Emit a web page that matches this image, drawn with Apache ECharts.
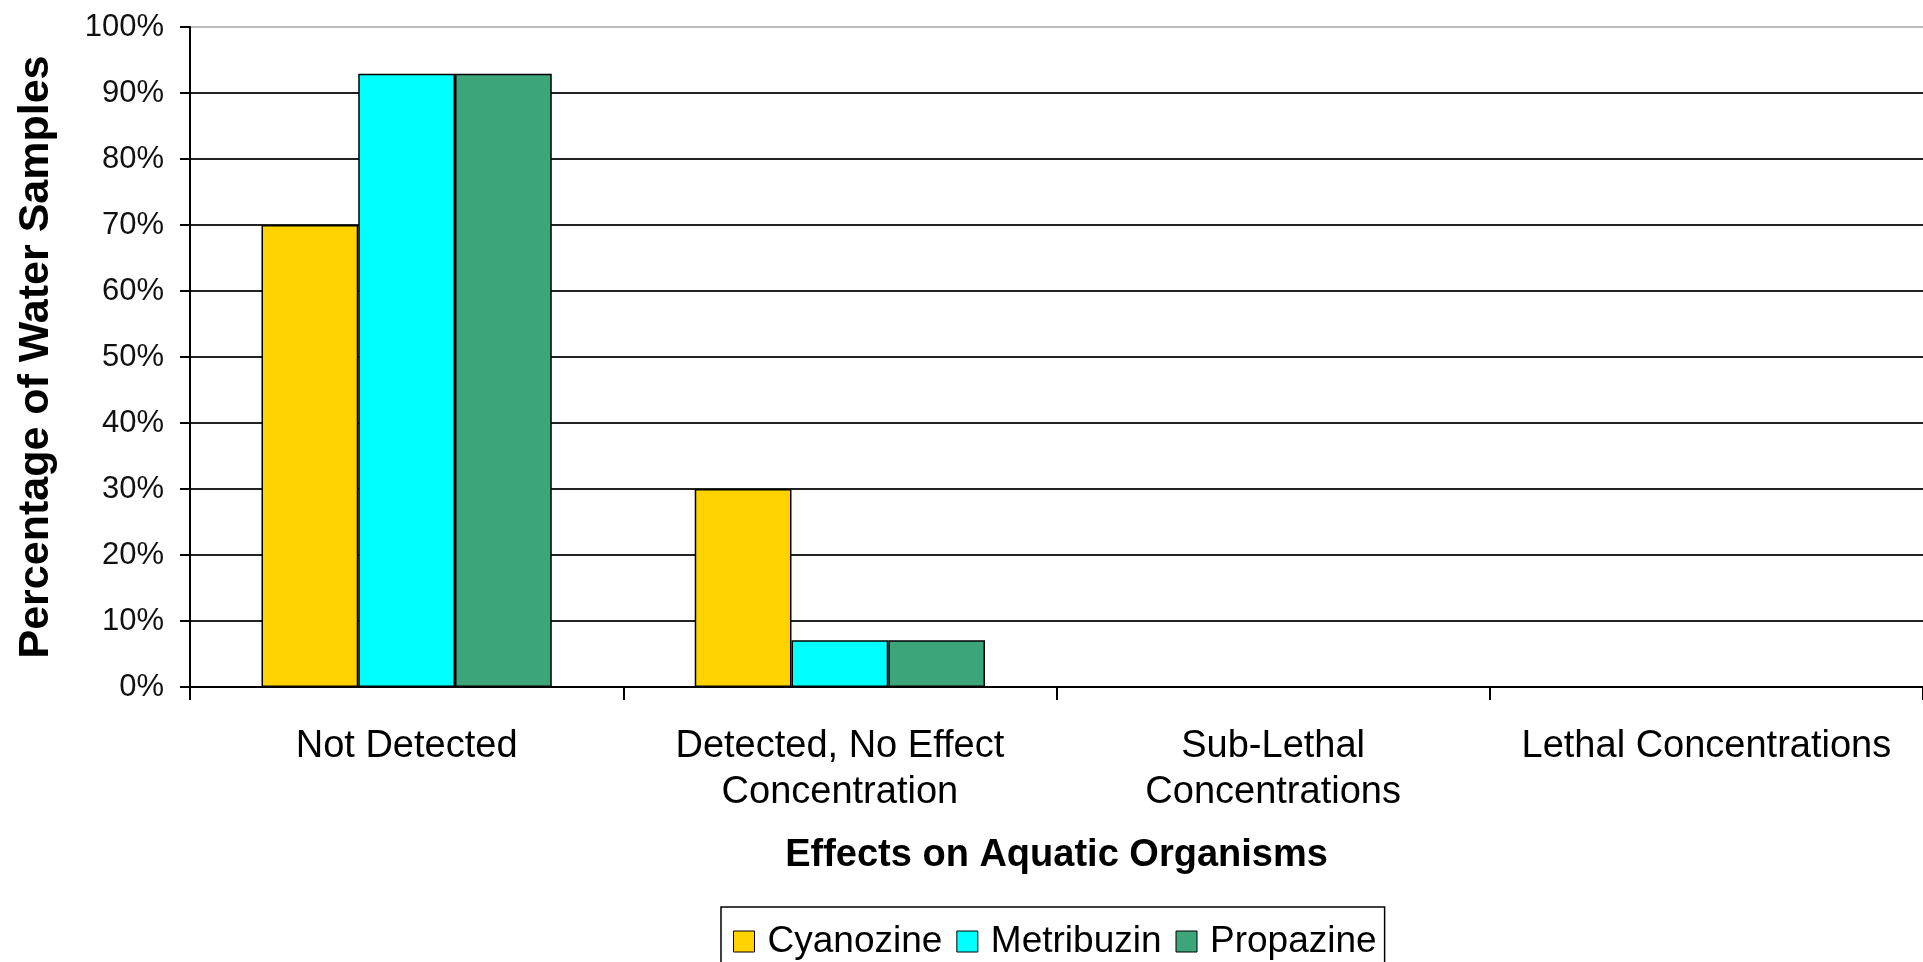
<!DOCTYPE html>
<html>
<head>
<meta charset="utf-8">
<script src="https://cdn.jsdelivr.net/npm/echarts@6/dist/echarts.min.js"></script>
<style>
html,body{margin:0;padding:0;background:#fff;}
#chart{width:1923px;height:962px;}
</style>
</head>
<body>
<div id="chart"></div>
<script>
const categories = ['Not Detected', 'Detected, No Effect\nConcentration', 'Sub-Lethal\nConcentrations', 'Lethal Concentrations'];
const cyanozine = [70, 30, 0, 0];
const metribuzin = [92.9, 7.1, 0, 0];
const propazine = [92.9, 7.1, 0, 0];
const seriesNames = ['Cyanozine', 'Metribuzin', 'Propazine'];
const colors = ['#FFD200', '#00FFFF', '#3DA57A'];
const xTitle = 'Effects on Aquatic Organisms';
const yTitle = 'Percentage of Water Samples';

const FONT = "Arial, 'Liberation Sans', sans-serif";
const chart = echarts.init(document.getElementById('chart'), null, {renderer: 'canvas'});
const mkSeries = (name, data, color) => ({
  name: name,
  type: 'bar',
  data: data,
  barGap: '0%',
  barCategoryGap: '33%',
  itemStyle: {color: color, borderColor: '#000', borderWidth: 1.5},
  emphasis: {disabled: true}
});
chart.setOption({
  animation: false,
  backgroundColor: '#fff',
  grid: {left: 190, right: 0, top: 27, bottom: 275, containLabel: false},
  legend: {
    data: seriesNames,
    left: 721,
    top: 907,
    padding: [16, 8, 30, 12],
    itemGap: 14,
    itemWidth: 21,
    itemHeight: 21,
    icon: 'rect',
    borderColor: '#000',
    borderWidth: 1.5,
    textStyle: {fontFamily: FONT, fontSize: 37, color: '#000', padding: [0, 0, 0, 8]},
    itemStyle: {borderColor: '#000', borderWidth: 1}
  },
  xAxis: {
    type: 'category',
    data: categories,
    name: xTitle,
    nameLocation: 'middle',
    nameGap: 150,
    nameTextStyle: {fontFamily: FONT, fontSize: 38, fontWeight: 'bold', color: '#000'},
    axisLine: {lineStyle: {color: '#000', width: 2}},
    axisTick: {show: true, length: 13, lineStyle: {color: '#000', width: 2}},
    axisLabel: {fontFamily: FONT, fontSize: 38, color: '#000', margin: 37, lineHeight: 46, interval: 0}
  },
  yAxis: {
    type: 'value',
    min: 0,
    max: 100,
    interval: 10,
    name: yTitle,
    nameLocation: 'middle',
    nameGap: 132,
    nameTextStyle: {fontFamily: FONT, fontSize: 43, fontWeight: 'bold', color: '#000'},
    axisLine: {show: true, lineStyle: {color: '#000', width: 2}},
    axisTick: {show: true, length: 10, lineStyle: {color: '#000', width: 2}},
    axisLabel: {fontFamily: FONT, fontSize: 31, color: '#111', margin: 26, formatter: '{value}%'},
    splitLine: {show: true, lineStyle: {color: ['#222','#222','#222','#222','#222','#222','#222','#222','#222','#222','#bbb'], width: 2}}
  },
  series: [
    mkSeries(seriesNames[0], cyanozine, colors[0]),
    mkSeries(seriesNames[1], metribuzin, colors[1]),
    mkSeries(seriesNames[2], propazine, colors[2])
  ]
});
</script>
</body>
</html>
